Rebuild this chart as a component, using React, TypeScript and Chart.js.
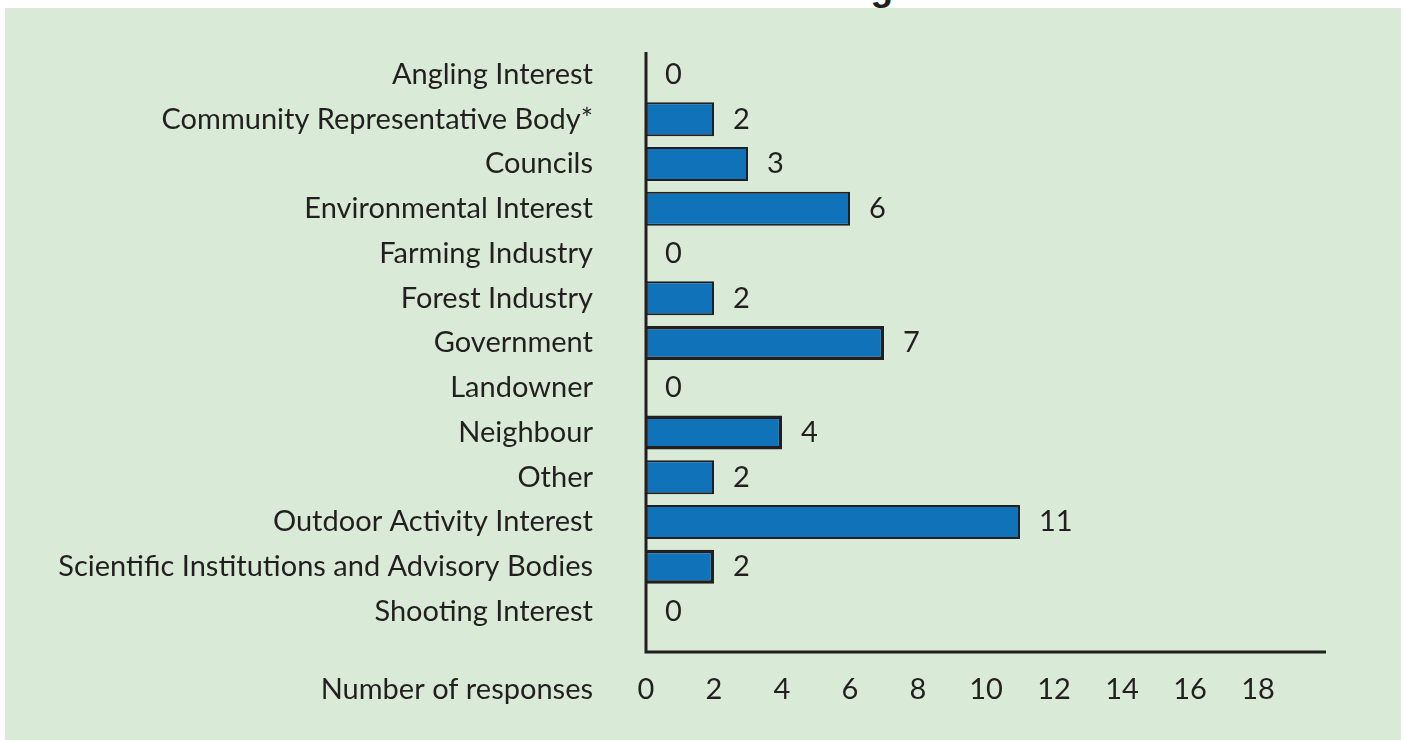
import React, { useEffect, useRef } from "react";
import { Chart, registerables } from "chart.js";
Chart.register(...registerables);

const chartTitle = "Stakeholder Interest Categories";
const categories = [
  "Angling Interest",
  "Community Representative Body*",
  "Councils",
  "Environmental Interest",
  "Farming Industry",
  "Forest Industry",
  "Government",
  "Landowner",
  "Neighbour",
  "Other",
  "Outdoor Activity Interest",
  "Scientific Institutions and Advisory Bodies",
  "Shooting Interest",
];
const responses = [0, 2, 3, 6, 0, 2, 7, 0, 4, 2, 11, 2, 0];
const xTickValues = [0, 2, 4, 6, 8, 10, 12, 14, 16, 18];
const xAxisLabel = "Number of responses";
const heavyOutline = ["Government", "Neighbour", "Scientific Institutions and Advisory Bodies"];

const INK = "#231f20";
const BAR = "#1073ba";
const BG = "#d9ebd6";
const FAMILY = "Lato, 'Noto Sans', sans-serif";
const FSIZE = 29;
const TICK_PAD = 38;

const decorPlugin = {
  id: "decor",
  afterDraw(chart: any) {
    const { ctx, chartArea } = chart;
    const axisY = chartArea.bottom + 18;
    ctx.save();
    ctx.strokeStyle = INK;
    ctx.lineWidth = 3;
    ctx.beginPath();
    ctx.moveTo(chartArea.left, chartArea.top);
    ctx.lineTo(chartArea.left, axisY + 1.5);
    ctx.moveTo(chartArea.left - 1.5, axisY);
    ctx.lineTo(chartArea.right, axisY);
    ctx.stroke();

    ctx.font = `${FSIZE}px ${FAMILY}`;
    ctx.fillStyle = INK;
    ctx.textAlign = "left";
    ctx.textBaseline = "middle";
    const meta = chart.getDatasetMeta(0);
    meta.data.forEach((bar: any, i: number) => {
      const v = chart.data.datasets[0].data[i];
      ctx.fillText(String(v), bar.x + 19, bar.y);
    });

    ctx.textAlign = "right";
    ctx.fillText(xAxisLabel, chartArea.left - 53, chartArea.bottom + TICK_PAD + FSIZE * 0.6);
    ctx.restore();
  },
};

export default function App() {
  const ref = useRef<HTMLCanvasElement | null>(null);
  useEffect(() => {
    if (!ref.current) return;
    const chart = new Chart(ref.current, {
      type: "bar",
      data: {
        labels: categories,
        datasets: [
          {
            data: responses,
            backgroundColor: BAR,
            borderColor: INK,
            borderWidth: (c: any) => (heavyOutline.includes(categories[c.dataIndex]) ? 3.5 : 2),
            borderSkipped: "start",
            barPercentage: 0.76,
            categoryPercentage: 1,
          },
        ],
      },
      options: {
        indexAxis: "y",
        responsive: false,
        animation: false,
        layout: { padding: { left: 0, top: 44, right: 75, bottom: 0 } },
        plugins: { legend: { display: false }, tooltip: { enabled: false }, title: { display: false } },
        scales: {
          y: {
            type: "category",
            grid: { display: false, drawTicks: false },
            border: { display: false },
            ticks: { color: INK, font: { family: FAMILY, size: FSIZE }, padding: 53 },
            afterFit: (s: any) => {
              s.width = 641;
              s.paddingTop = 0;
              s.paddingBottom = 0;
            },
          },
          x: {
            type: "linear",
            min: 0,
            max: 20,
            grid: { display: false, drawTicks: false },
            border: { display: false },
            ticks: { color: INK, font: { family: FAMILY, size: FSIZE }, padding: TICK_PAD, maxRotation: 0 },
            afterBuildTicks: (s: any) => {
              s.ticks = xTickValues.map((v) => ({ value: v }));
            },
            afterFit: (s: any) => {
              s.height = 106;
              s.paddingLeft = 0;
              s.paddingRight = 0;
            },
          },
        },
      },
      plugins: [decorPlugin],
    } as any);
    return () => chart.destroy();
  }, []);

  return (
    <div style={{ position: "fixed", left: 0, top: 0, width: 1405, height: 740, background: "#fff", overflow: "hidden" }}>
      <div
        style={{
          position: "absolute",
          left: 5,
          top: -31,
          width: 1396,
          textAlign: "center",
          font: "bold 37px 'Liberation Sans', Arial, sans-serif",
          lineHeight: "37px",
          color: INK,
          whiteSpace: "nowrap",
        }}
      >
        {chartTitle}
      </div>
      <div style={{ position: "absolute", left: 5, top: 8, width: 1396, height: 732, background: BG }}>
        <canvas ref={ref} width={1396} height={732} style={{ display: "block", width: 1396, height: 732 }} />
      </div>
    </div>
  );
}
